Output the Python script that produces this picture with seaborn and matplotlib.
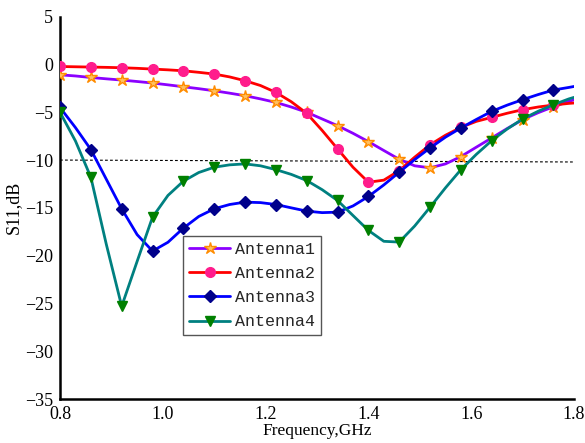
import numpy as np
import pandas as pd
import matplotlib
matplotlib.use("Agg")
import matplotlib.pyplot as plt
import seaborn as sns

freq = [0.80, 0.83, 0.86, 0.89, 0.92, 0.95, 0.98, 1.01, 1.04, 1.07, 1.10, 1.13,
        1.16, 1.19, 1.22, 1.25, 1.28, 1.31, 1.34, 1.37, 1.40, 1.43, 1.46, 1.49,
        1.52, 1.55, 1.58, 1.61, 1.64, 1.67, 1.70, 1.73, 1.76, 1.79, 1.80]

antenna1 = [-1.08, -1.2, -1.36, -1.5, -1.63, -1.78, -1.94, -2.13, -2.33, -2.53, -2.75, -3.0,
            -3.27, -3.6, -3.97, -4.45, -5.0, -5.7, -6.4, -7.2, -8.07, -9.0, -9.92, -10.6,
            -10.81, -10.4, -9.63, -8.65, -7.68, -6.7, -5.77, -5.05, -4.42, -3.85, -3.7]
antenna2 = [-0.21, -0.24, -0.27, -0.3, -0.34, -0.4, -0.48, -0.56, -0.66, -0.82, -1.0, -1.3,
            -1.7, -2.2, -2.92, -3.9, -5.11, -6.9, -8.83, -10.75, -12.32, -12.1, -11.1, -9.7,
            -8.4, -7.4, -6.58, -5.95, -5.53, -5.1, -4.73, -4.45, -4.24, -4.07, -4.03]
antenna3 = [-4.5, -6.6, -8.9, -12.0, -15.1, -17.8, -19.52, -18.6, -17.12, -15.9, -15.1, -14.65,
            -14.4, -14.45, -14.65, -15.0, -15.34, -15.5, -15.45, -14.8, -13.81, -12.6, -11.27, -9.95,
            -8.73, -7.6, -6.64, -5.75, -4.9, -4.25, -3.68, -3.15, -2.67, -2.4, -2.3]
antenna4 = [-5.0, -8.0, -11.8, -18.8, -25.3, -20.6, -15.97, -13.7, -12.21, -11.3, -10.75, -10.5,
            -10.4, -10.6, -11.0, -11.5, -12.14, -13.1, -14.23, -15.8, -17.36, -18.5, -18.58, -16.9,
            -14.93, -12.9, -11.0, -9.4, -7.96, -6.75, -5.7, -4.9, -4.21, -3.6, -3.44]

names = ["Antenna1", "Antenna2", "Antenna3", "Antenna4"]
line_colors = ["#8B00FF", "#FF0000", "#0000FF", "#008080"]
marker_face = ["#FFC060", "#FF1C8C", "#00008B", "#008000"]
marker_edge = ["#FF8C00", "#FF1C8C", "#00008B", "#008000"]
markers = ["*", "o", "D", "v"]
msizes = [9, 7, 6.5, 7.5]

thr_x = [0.8, 1.8]
thr_y = [-10.0, -10.2]

xticks = [0.8, 1.0, 1.2, 1.4, 1.6, 1.8]
xticklabels = ["0.8", "1.0", "1.2", "1.4", "1.6", "1.8"]
yticks = [5, 0, -5, -10, -15, -20, -25, -30, -35]

series = [antenna1, antenna2, antenna3, antenna4]
df = pd.concat([pd.DataFrame({"freq": freq, "s11": s, "name": n}) for s, n in zip(series, names)])

sns.set_theme(style="white")
plt.rcParams["font.family"] = ["Liberation Serif", "DejaVu Serif"]

fig = plt.figure(figsize=(5.85, 4.43), dpi=100)
ax = fig.add_axes([0.1026, 0.0993, 0.8786, 0.863])

ax.plot(thr_x, thr_y, color="black", lw=0.8, ls=(0, (2.5, 2)), zorder=1)

for i, n in enumerate(names):
    sub = df[df["name"] == n]
    sns.lineplot(data=sub, x="freq", y="s11", ax=ax, color=line_colors[i], lw=2.0,
                 marker=markers[i], markersize=msizes[i], markerfacecolor=marker_face[i],
                 markeredgecolor=marker_edge[i], markeredgewidth=1.0,
                 markevery=list(range(0, 34, 2)), label=n, zorder=3 + i)

ax.set_xlim(0.8, 1.8)
ax.set_ylim(-35, 5)
ax.set_xticks(xticks)
ax.set_xticklabels(xticklabels)
ax.set_yticks(yticks)
ax.tick_params(length=0, labelsize=13, colors="black", pad=5)
for s in ["top", "right"]:
    ax.spines[s].set_visible(False)
for s in ["left", "bottom"]:
    ax.spines[s].set_color("black")
    ax.spines[s].set_linewidth(1.8)

ax.set_xlabel("Frequency,GHz", fontsize=12.5, color="black", labelpad=0)
ax.set_ylabel("S11,dB", fontsize=13, color="black", labelpad=2)

leg = ax.legend(loc="upper left", bbox_to_anchor=(0.239, 0.426), prop={"family": "Liberation Mono", "size": 12},
                frameon=True, fancybox=False, edgecolor="#555555", framealpha=1,
                handlelength=2.5, handletextpad=0.3, borderpad=0.35, labelspacing=0.55,
                borderaxespad=0)
leg.get_frame().set_linewidth(1.0)

fig.savefig("out.png", dpi=100)
